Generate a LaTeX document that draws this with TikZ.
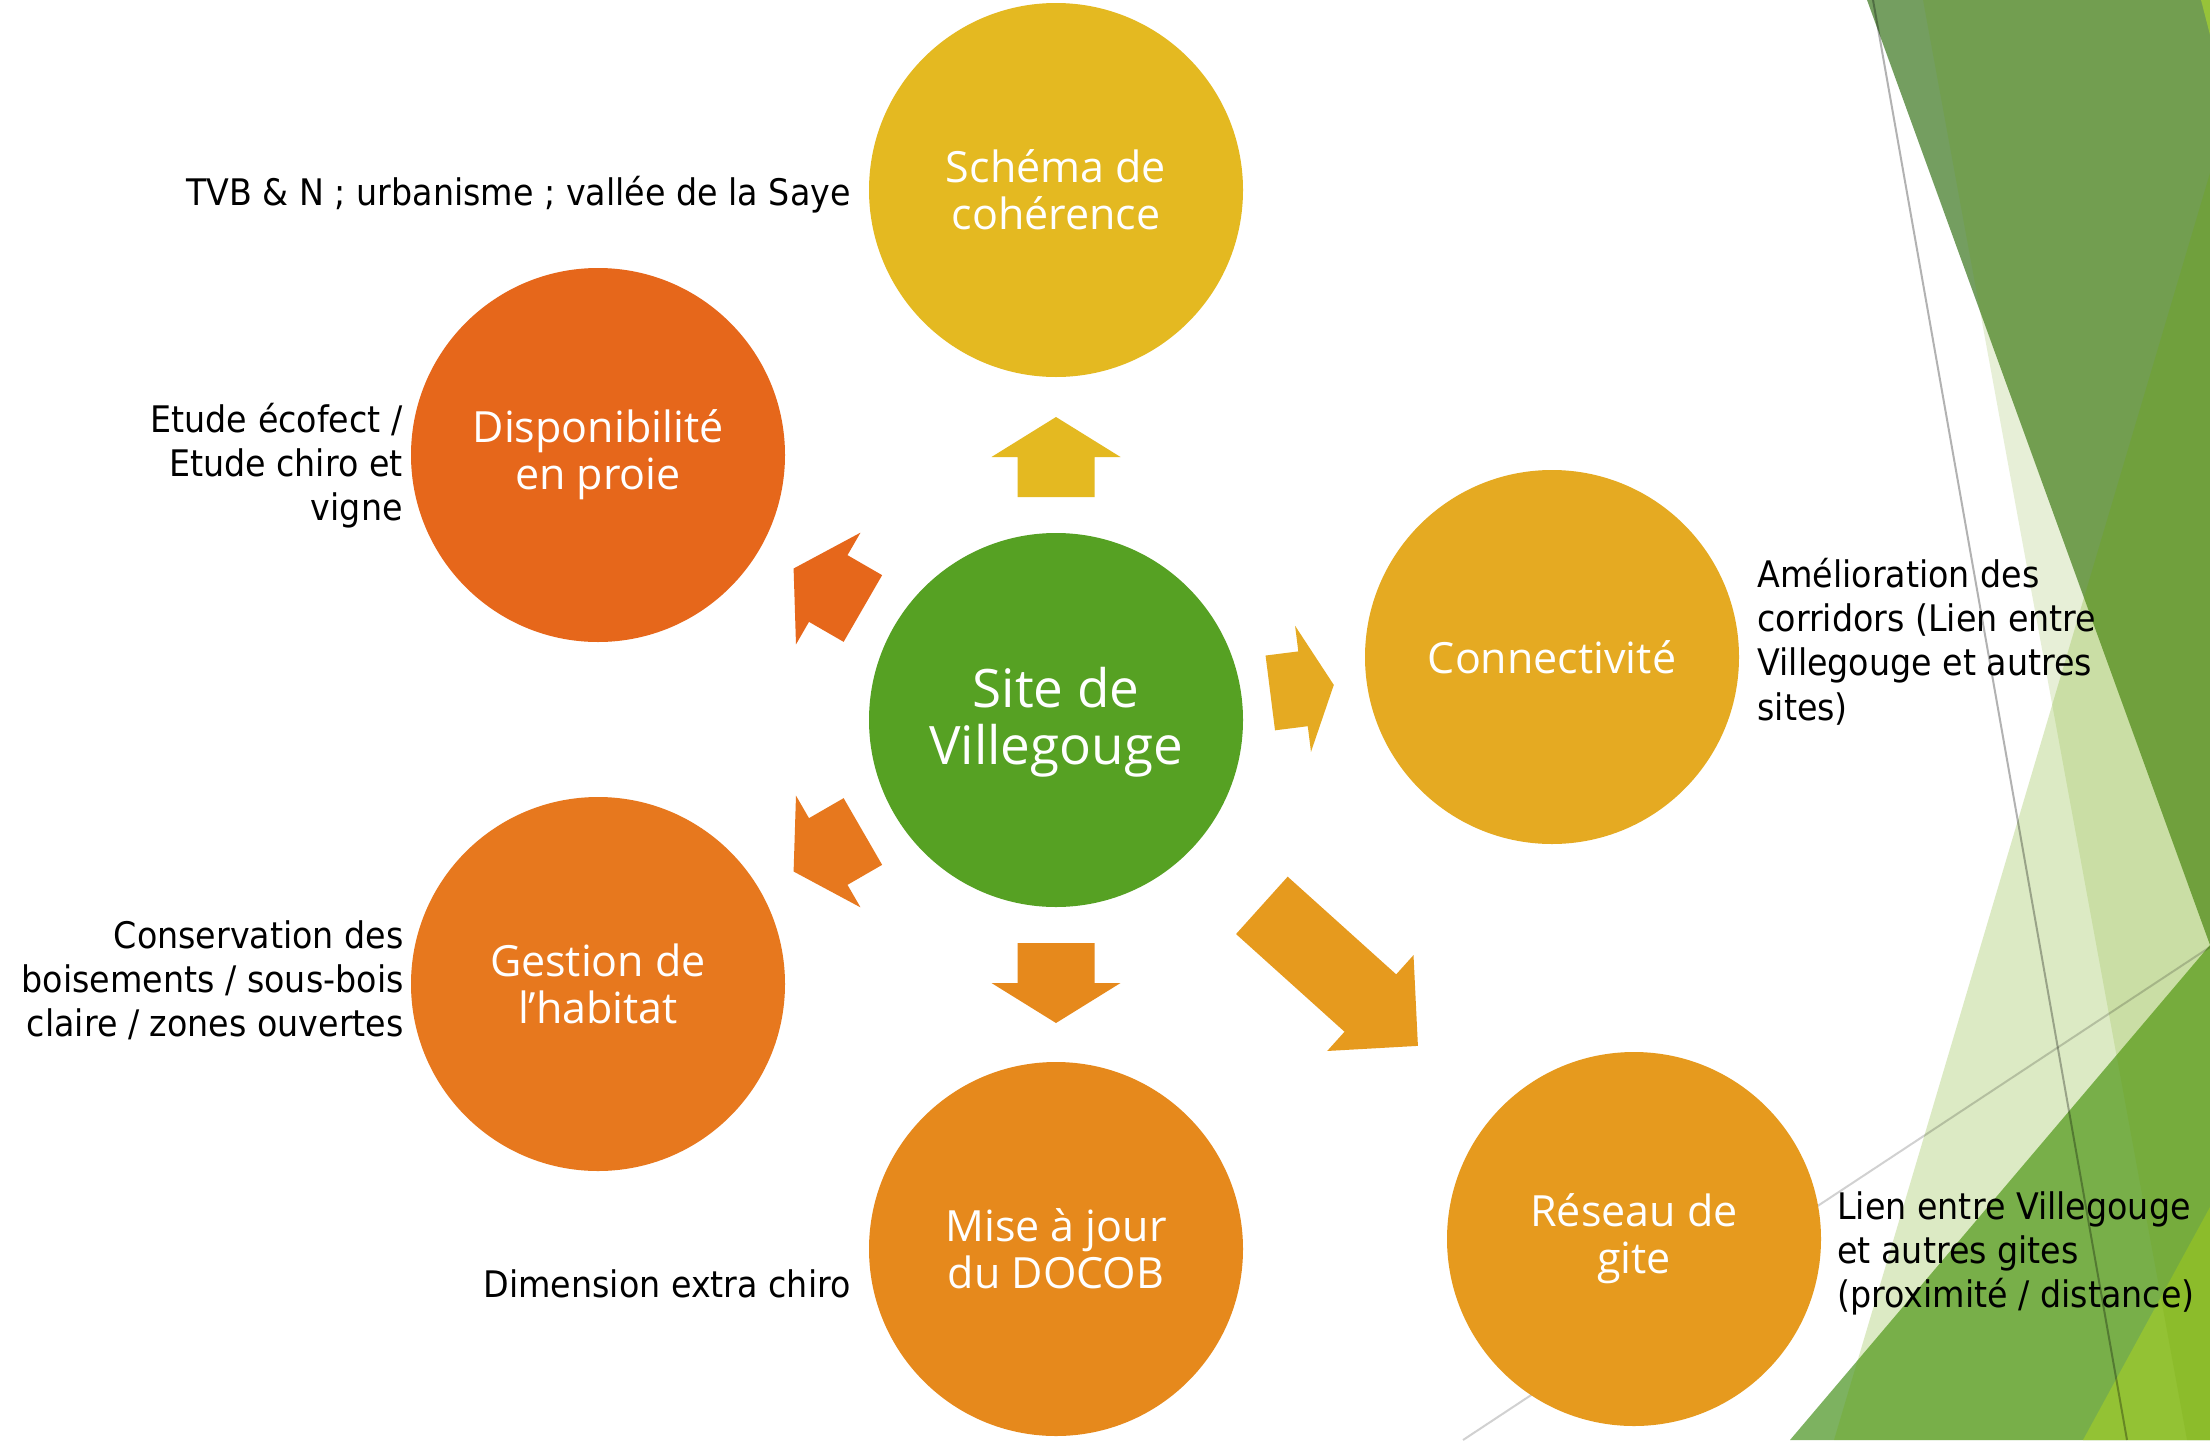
\documentclass[tikz,border=0pt]{standalone}
\usepackage{fontspec}
\newfontfamily\lab[FakeStretch=0.91]{DejaVu Sans}
\newfontfamily\circfont{Open Sans}
\definecolor{cSchema}{RGB}{228,185,33}
\definecolor{cDispo}{RGB}{230,103,27}
\definecolor{cSite}{RGB}{86,161,35}
\definecolor{cConn}{RGB}{229,170,34}
\definecolor{cGest}{RGB}{231,120,30}
\definecolor{cMise}{RGB}{230,137,28}
\definecolor{cRes}{RGB}{230,154,30}
\definecolor{gA}{RGB}{116,158,96}
\definecolor{gB}{RGB}{106,158,0}
\definecolor{gC}{RGB}{107,168,0}
\definecolor{gD}{RGB}{125,178,96}
\definecolor{gE}{RGB}{160,202,68}
\tikzset{
  bub/.style={circle, minimum size=187pt, inner sep=0pt, text=white, align=center,
    font=\circfont\fontsize{21.5}{23.5}\selectfont},
  bigbub/.style={bub, font=\circfont\fontsize{26.5}{28}\selectfont},
  lbl/.style={inner sep=0pt, text=black, font=\lab\fontsize{18.3}{22.2}\selectfont},
  facet/.style={draw=none},
  thinline/.style={line width=1pt, draw=black},
}
\newcommand\blockarr[7]{%
  \fill[#1, shift={(site.center)}, rotate=#2]
    (#3,-#6) -- (#4,-#6) -- (#4,-#7) -- (#5,0) -- (#4,#7) -- (#4,#6) -- (#3,#6) -- cycle;}
\begin{document}
\begin{tikzpicture}[x=0.5pt,y=-0.5pt]
\useasboundingbox (0,0) rectangle (2210,1440);
\fill[white] (0,0) rectangle (2210,1440);
% facet background
\fill[facet, gA] (1867,0) -- (2210,0) -- (2210,945) -- cycle;
\fill[facet, gD] (2210,945) -- (2210,1440) -- (1790,1440) -- cycle;
\fill[facet, gE] (2210,1207) -- (2210,1440) -- (2083,1440) -- cycle;
\fill[facet, gE] (2201,0) -- (2210,0) -- (2210,35) -- cycle;
\fill[facet, gB, opacity=0.155] (1923,0) -- (2210,0) -- (2210,1440) -- (2187,1440) -- cycle;
\fill[facet, gC, opacity=0.23] (2210,173) -- (2210,1440) -- (1834,1440) -- cycle;
\coordinate (l1a) at (1873,0);
\coordinate (l1b) at (2127,1440);
\coordinate (l2a) at (1463,1440);
\coordinate (l2b) at (2210,947);
\draw[thinline, draw opacity=0.3] (l1a) -- (l1b);
\draw[thinline, draw opacity=0.18] (l2a) -- (l2b);
% circles
\node[bigbub, fill=cSite] (site) at (1056,720) {\raisebox{-2pt}[\height][\depth]{\begin{tabular}{@{}c@{}}Site de\\Villegouge\end{tabular}}};
\node[bub, fill=cSchema] (schema) at (1056,190) {Schéma de\\cohérence};
\node[bub, fill=cDispo] (dispo) at (598,455) {Disponibilité\\en proie};
\node[bub, fill=cConn] (conn) at (1552,657) {Connectivité};
\node[bub, fill=cGest] (gest) at (598,984) {Gestion de\\l’habitat};
\node[bub, fill=cMise] (mise) at (1056,1249) {Mise à jour\\du DOCOB};
\node[bub, fill=cRes] (res) at (1634,1239) {Réseau de\\gite};
% block arrows from the centre
\blockarr{cSchema}{90}{223}{263}{303}{38.5}{64.5}
\blockarr{cMise}{-90}{223}{263}{303}{38.5}{64.5}
\blockarr{cDispo}{150}{223}{263}{303}{38.5}{64.5}
\blockarr{cGest}{210}{223}{263}{303}{38.5}{64.5}
\blockarr{cConn}{7.2}{216}{249}{280}{37.7}{63.5}
\blockarr{cRes}{-42}{277}{423}{487}{38.6}{64.5}
% labels
\node[lbl, anchor=base east] (tschema) at (851,205) {TVB \& N ; urbanisme ; vallée de la Saye};
\node[lbl, anchor=base east] (tdispo) at (403,432) {\begin{tabular}[t]{@{}r@{}}Etude écofect /\\Etude chiro et\\vigne\end{tabular}};
\node[lbl, anchor=base east] (tgest) at (404,948) {\begin{tabular}[t]{@{}r@{}}Conservation des\\boisements / sous-bois\\claire / zones ouvertes\end{tabular}};
\node[lbl, anchor=base east] (tmise) at (851,1297) {Dimension extra chiro};
\node[lbl, anchor=base west] (tconn) at (1757,587) {\begin{tabular}[t]{@{}l@{}}Amélioration des\\corridors (Lien entre\\Villegouge et autres\\sites)\end{tabular}};
\node[lbl, anchor=base west] (tres) at (1837,1219) {\begin{tabular}[t]{@{}l@{}}Lien entre Villegouge\\et autres gites\\(proximité / distance)\end{tabular}};
\end{tikzpicture}
\end{document}
